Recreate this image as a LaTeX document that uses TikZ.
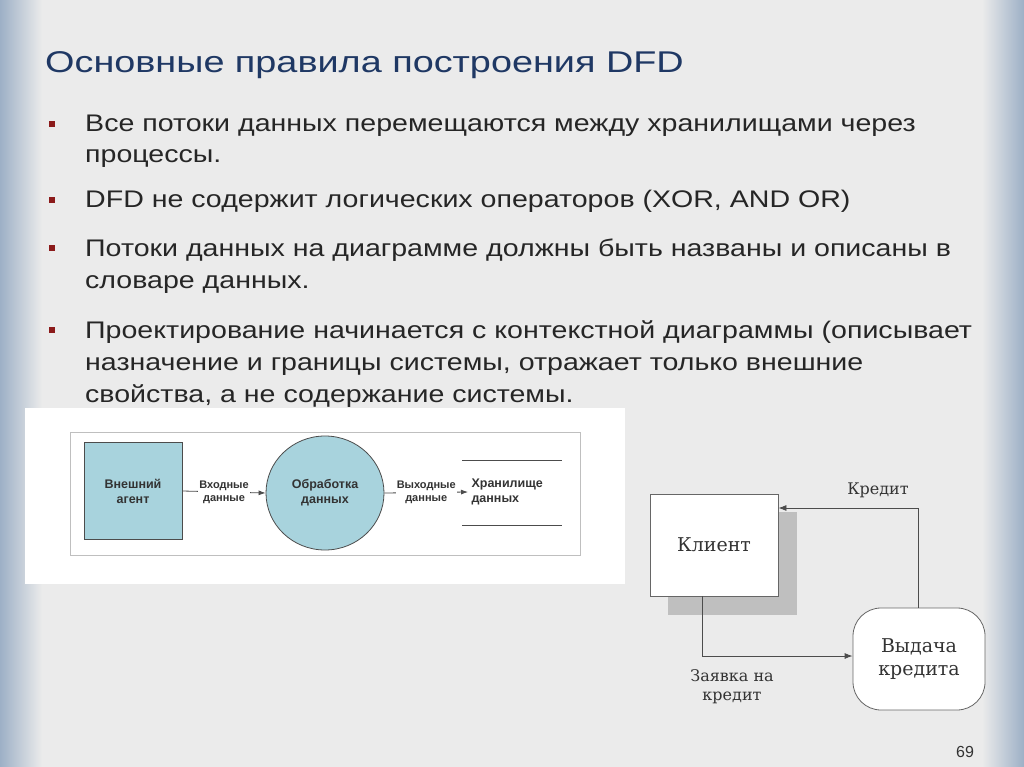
\documentclass[tikz,border=0pt]{standalone}
\usepackage{fontspec}
\setmainfont{Liberation Sans}
\newfontfamily\bodyf[FakeStretch=1.19]{Liberation Sans}
\newfontfamily\titlef[FakeStretch=1.26]{Liberation Sans}
\newfontfamily\serifb{DejaVu Serif}
\usetikzlibrary{arrows.meta,shapes.geometric}
\definecolor{bg}{HTML}{EBEBEB}
\definecolor{sideb}{HTML}{9DB0C6}
\definecolor{titlec}{HTML}{1F3864}
\definecolor{bul}{HTML}{8B1A1A}
\definecolor{lblue}{HTML}{A8D3DD}
\begin{document}
\begin{tikzpicture}[x=1pt,y=-1pt,
  txt/.style={anchor=base west,font=\bodyf\fontsize{24}{28}\selectfont,text=black!85,inner sep=0},
  bsq/.style={fill=bul,minimum size=6pt,inner sep=0},
  sm/.style={font=\bfseries\fontsize{12.5}{15}\selectfont,text=black!80,align=center},
  sml/.style={font=\bfseries\fontsize{11}{13}\selectfont,text=black!80,align=center,fill=white,inner sep=1pt},
  sr/.style={font=\serifb\fontsize{16}{19}\selectfont,text=black!80,align=center},
  arr/.style={-{Latex[length=8pt,width=6pt]},draw=black!70,line width=0.8pt}]
\useasboundingbox (0,0) rectangle (1024,767);
\fill[bg] (0,0) rectangle (1024,767);
\shade[left color=sideb,right color=bg] (0,0) rectangle (42,767);
\shade[left color=bg,right color=sideb] (982,0) rectangle (1024,767);
\node[anchor=base west,inner sep=0,font=\titlef\fontsize{30}{34}\selectfont,text=titlec] (title) at (45,73) {Основные правила построения DFD};
\foreach \y in {124,200,248,330} \node[bsq] at (52,\y) {};
\node[txt] (l1) at (85,132) {Все потоки данных перемещаются между хранилищами через};
\node[txt] (l2) at (85,163) {процессы.};
\node[txt] (l3) at (85,208) {DFD не содержит логических операторов (XOR, AND OR)};
\node[txt] (l4) at (85,256) {Потоки данных на диаграмме должны быть названы и описаны в};
\node[txt] (l5) at (85,288) {словаре данных.};
\node[txt] (l6) at (85,338) {Проектирование начинается с контекстной диаграммы (описывает};
\node[txt] (l7) at (85,370) {назначение и границы системы, отражает только внешние};
\node[txt] (l8) at (85,402) {свойства, а не содержание системы.};
% left panel
\fill[white] (25,408) rectangle (625,584);
\draw[black!25,line width=1pt] (70,432) rectangle (580,555);
\node[draw=black!70,fill=lblue,line width=1pt,minimum width=98pt,minimum height=97pt,sm] (agent) at (133,491) {Внешний\\агент};
\node[ellipse,draw=black!70,fill=lblue,line width=0.8pt,minimum width=118pt,minimum height=114pt,sm] (proc) at (325,493) {Обработка\\данных};
\draw[black!70,line width=1pt] (462,460) -- (562,460) (462,525) -- (562,525);
\node[sm,align=left,anchor=west] (store) at (468,492) {Хранилище\\данных};
\draw[arr,-{Latex[length=7pt,width=5pt]}] (agent.east) -- (proc.west) node[midway,sml] {Входные\\данные};
\draw[arr,-{Latex[length=7pt,width=5pt]}] (proc.east) -- (store.west) node[midway,sml] {Выходные\\данные};
% right diagram
\fill[black!25] (668,512) rectangle (797,615);
\node[draw=black!60,fill=white,line width=0.8pt,minimum width=128pt,minimum height=102pt,sr,font=\serifb\fontsize{19}{22}\selectfont] (cl) at (714,545) {Клиент};
\node[draw=black!60,fill=white,line width=0.8pt,rounded corners=28pt,minimum width=132pt,minimum height=102pt,sr,font=\serifb\fontsize{19}{23}\selectfont] (vy) at (919,659) {Выдача\\кредита};
\coordinate (c1) at (702,656);
\coordinate (c2) at (918,508);
\draw[arr] (cl.south -| c1) -- (c1) -- (vy.west |- c1);
\draw[arr] (vy.north -| c2) -- (c2) -- (cl.east |- c2);
\node[sr] (zk) at (732,687) {Заявка на\\кредит};
\node[sr] (kr) at (878,490) {Кредит};
\node[font=\fontsize{16}{18}\selectfont,text=black!80] (pg) at (965,752) {69};
\end{tikzpicture}
\end{document}
